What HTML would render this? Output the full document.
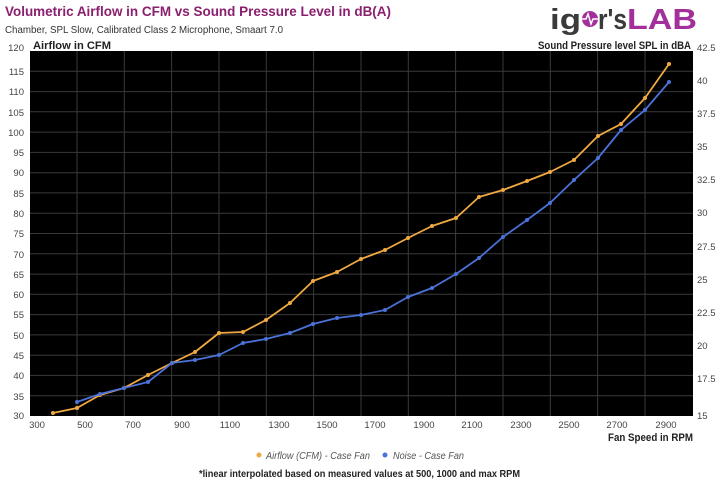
<!DOCTYPE html>
<html><head><meta charset="utf-8"><style>
body{margin:0;background:#fff;width:720px;height:482px;overflow:hidden;font-family:"Liberation Sans",sans-serif;}
</style></head><body>
<svg width="720" height="482" xmlns="http://www.w3.org/2000/svg" font-family="Liberation Sans, sans-serif">
<text x="5" y="16" font-size="14" font-weight="bold" fill="#8a1f6e" textLength="386" lengthAdjust="spacingAndGlyphs">Volumetric Airflow in CFM vs Sound Pressure Level in dB(A)</text>
<text x="5" y="33" font-size="10" fill="#333" textLength="278" lengthAdjust="spacingAndGlyphs">Chamber, SPL Slow, Calibrated Class 2 Microphone, Smaart 7.0</text>
<text x="550" y="29" font-size="29" font-weight="bold" fill="#3a3a3a" textLength="31" lengthAdjust="spacingAndGlyphs">ig</text>
<circle cx="590" cy="19" r="8" fill="#a3309a"/>
<polyline points="582,19 586,19 588,14 591,24 593,19 598,19" fill="none" stroke="#fff" stroke-width="1.5"/>
<text x="598" y="29" font-size="29" font-weight="bold" fill="#3a3a3a" textLength="29" lengthAdjust="spacingAndGlyphs">r's</text>
<text x="627" y="29" font-size="29" font-weight="bold" fill="#a3309a" textLength="70" lengthAdjust="spacingAndGlyphs">LAB</text>
<rect x="30" y="51" width="663" height="365" fill="#000"/>
<g stroke="#3a3a3a" stroke-width="1">
<line x1="30" x2="693" y1="71.3" y2="71.3"/><line x1="30" x2="693" y1="91.6" y2="91.6"/><line x1="30" x2="693" y1="111.8" y2="111.8"/><line x1="30" x2="693" y1="132.1" y2="132.1"/><line x1="30" x2="693" y1="152.4" y2="152.4"/><line x1="30" x2="693" y1="172.7" y2="172.7"/><line x1="30" x2="693" y1="192.9" y2="192.9"/><line x1="30" x2="693" y1="213.2" y2="213.2"/><line x1="30" x2="693" y1="233.5" y2="233.5"/><line x1="30" x2="693" y1="253.8" y2="253.8"/><line x1="30" x2="693" y1="274.1" y2="274.1"/><line x1="30" x2="693" y1="294.3" y2="294.3"/><line x1="30" x2="693" y1="314.6" y2="314.6"/><line x1="30" x2="693" y1="334.9" y2="334.9"/><line x1="30" x2="693" y1="355.2" y2="355.2"/><line x1="30" x2="693" y1="375.4" y2="375.4"/><line x1="30" x2="693" y1="395.7" y2="395.7"/>
<line y1="51" y2="416" x1="77" x2="77"/><line y1="51" y2="416" x1="124.3" x2="124.3"/><line y1="51" y2="416" x1="171.6" x2="171.6"/><line y1="51" y2="416" x1="219" x2="219"/><line y1="51" y2="416" x1="266.3" x2="266.3"/><line y1="51" y2="416" x1="313.6" x2="313.6"/><line y1="51" y2="416" x1="361" x2="361"/><line y1="51" y2="416" x1="408.3" x2="408.3"/><line y1="51" y2="416" x1="455.6" x2="455.6"/><line y1="51" y2="416" x1="503" x2="503"/><line y1="51" y2="416" x1="550.3" x2="550.3"/><line y1="51" y2="416" x1="597.6" x2="597.6"/><line y1="51" y2="416" x1="645" x2="645"/>
</g>
<g font-size="9.5" fill="#444" text-anchor="end">
<text x="24" y="51">120</text><text x="24" y="75">115</text><text x="24" y="95">110</text><text x="24" y="116">105</text><text x="24" y="136">100</text><text x="24" y="156">95</text><text x="24" y="176">90</text><text x="24" y="197">85</text><text x="24" y="217">80</text><text x="24" y="237">75</text><text x="24" y="258">70</text><text x="24" y="278">65</text><text x="24" y="298">60</text><text x="24" y="318">55</text><text x="24" y="339">50</text><text x="24" y="359">45</text><text x="24" y="379">40</text><text x="24" y="400">35</text><text x="24" y="419">30</text>
</g>
<g font-size="9.5" fill="#444" text-anchor="start">
<text x="697" y="51">42.5</text><text x="697" y="84">40</text><text x="697" y="117">37.5</text><text x="697" y="150">35</text><text x="697" y="183">32.5</text><text x="697" y="216">30</text><text x="697" y="250">27.5</text><text x="697" y="283">25</text><text x="697" y="316">22.5</text><text x="697" y="349">20</text><text x="697" y="382">17.5</text><text x="697" y="419">15</text>
</g>
<g font-size="9.5" fill="#444" text-anchor="middle">
<text x="37" y="428">300</text><text x="85" y="428">500</text><text x="133" y="428">700</text><text x="182" y="428">900</text><text x="230" y="428">1100</text><text x="279" y="428">1300</text><text x="327" y="428">1500</text><text x="375" y="428">1700</text><text x="424" y="428">1900</text><text x="472" y="428">2100</text><text x="521" y="428">2300</text><text x="569" y="428">2500</text><text x="617" y="428">2700</text><text x="666" y="428">2900</text>
</g>
<text x="33" y="49" font-size="11" font-weight="bold" fill="#222" textLength="78" lengthAdjust="spacingAndGlyphs">Airflow in CFM</text>
<text x="538" y="49" font-size="11" font-weight="bold" fill="#222" textLength="153" lengthAdjust="spacingAndGlyphs">Sound Pressure level SPL in dBA</text>
<text x="608" y="441" font-size="11" font-weight="bold" fill="#222" textLength="85" lengthAdjust="spacingAndGlyphs">Fan Speed in RPM</text>
<g fill="none" stroke-width="1.8" stroke-linejoin="round">
<polyline stroke="#f0a940" points="53,413 77,408 100,395 124,388 148,375 172,363 195,352 219,333 243,332 266,320 290,303 313,281 337,272 361,259 385,250 408,238 432,226 456,218 479,197 503,190 527,181 550,172 574,160 598,136 621,124 645,98 669,64"/>
<polyline stroke="#4a72d8" points="77,402 100,394 124,388 148,382 172,363 195,360 219,355 243,343 266,339 290,333 313,324 337,318 361,315 385,310 408,297 432,288 456,274 479,258 503,237 527,220 550,203 574,180 598,158 621,130 645,110 669,82"/>
</g>
<g fill="#f0a940">
<circle cx="53" cy="413" r="2"/><circle cx="77" cy="408" r="2"/><circle cx="100" cy="395" r="2"/><circle cx="124" cy="388" r="2"/><circle cx="148" cy="375" r="2"/><circle cx="172" cy="363" r="2"/><circle cx="195" cy="352" r="2"/><circle cx="219" cy="333" r="2"/><circle cx="243" cy="332" r="2"/><circle cx="266" cy="320" r="2"/><circle cx="290" cy="303" r="2"/><circle cx="313" cy="281" r="2"/><circle cx="337" cy="272" r="2"/><circle cx="361" cy="259" r="2"/><circle cx="385" cy="250" r="2"/><circle cx="408" cy="238" r="2"/><circle cx="432" cy="226" r="2"/><circle cx="456" cy="218" r="2"/><circle cx="479" cy="197" r="2"/><circle cx="503" cy="190" r="2"/><circle cx="527" cy="181" r="2"/><circle cx="550" cy="172" r="2"/><circle cx="574" cy="160" r="2"/><circle cx="598" cy="136" r="2"/><circle cx="621" cy="124" r="2"/><circle cx="645" cy="98" r="2"/><circle cx="669" cy="64" r="2"/>
</g>
<g fill="#4a72d8">
<circle cx="77" cy="402" r="2"/><circle cx="100" cy="394" r="2"/><circle cx="124" cy="388" r="2"/><circle cx="148" cy="382" r="2"/><circle cx="172" cy="363" r="2"/><circle cx="195" cy="360" r="2"/><circle cx="219" cy="355" r="2"/><circle cx="243" cy="343" r="2"/><circle cx="266" cy="339" r="2"/><circle cx="290" cy="333" r="2"/><circle cx="313" cy="324" r="2"/><circle cx="337" cy="318" r="2"/><circle cx="361" cy="315" r="2"/><circle cx="385" cy="310" r="2"/><circle cx="408" cy="297" r="2"/><circle cx="432" cy="288" r="2"/><circle cx="456" cy="274" r="2"/><circle cx="479" cy="258" r="2"/><circle cx="503" cy="237" r="2"/><circle cx="527" cy="220" r="2"/><circle cx="550" cy="203" r="2"/><circle cx="574" cy="180" r="2"/><circle cx="598" cy="158" r="2"/><circle cx="621" cy="130" r="2"/><circle cx="645" cy="110" r="2"/><circle cx="669" cy="82" r="2"/>
</g>
<circle cx="259" cy="455" r="2.5" fill="#f0a940"/>
<text x="266" y="459" font-size="10" font-style="italic" fill="#555" textLength="104" lengthAdjust="spacingAndGlyphs">Airflow (CFM) - Case Fan</text>
<circle cx="385" cy="455" r="2.5" fill="#4a72d8"/>
<text x="393" y="459" font-size="10" font-style="italic" fill="#555" textLength="71" lengthAdjust="spacingAndGlyphs">Noise - Case Fan</text>
<text x="199" y="477" font-size="10" font-weight="bold" fill="#222" textLength="321" lengthAdjust="spacingAndGlyphs">*linear interpolated based on measured values at 500, 1000 and max RPM</text>
</svg>
</body></html>
